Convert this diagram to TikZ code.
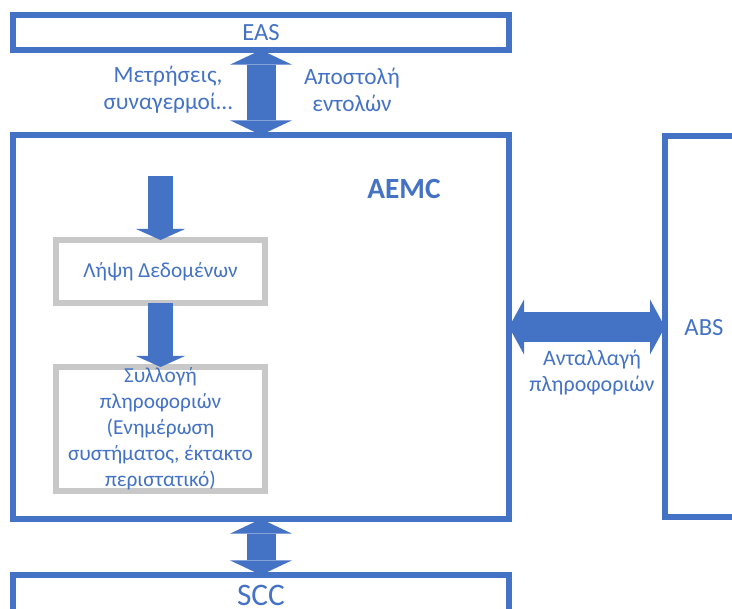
\documentclass[tikz,border=0pt]{standalone}
\usepackage{fontspec}
\setmainfont{Carlito}
\usetikzlibrary{arrows.meta}
\definecolor{boxblue}{HTML}{4472C4}
\definecolor{boxgray}{HTML}{C8C8C8}

\begin{document}
\begin{tikzpicture}[x=0.75pt, y=-0.75pt,
	bluebox/.style={shape=rectangle, draw=boxblue, line width=4.5pt, outer sep=0pt, text=boxblue},
	graybox/.style={shape=rectangle, draw=boxgray, line width=4.5pt, outer sep=0pt, text=boxblue, align=center, minimum width=156.75pt, font=\fontsize{16}{19.5}\selectfont},
	txt/.style={text=boxblue, align=center, inner sep=0pt, font=\fontsize{17.5}{20}\selectfont},
	vlink/.style={draw=boxblue, line width=21.75pt, arrows={Triangle[length=11pt, width=46.5pt, line width=0pt]-Triangle[length=11pt, width=46.5pt, line width=0pt]}},
	hlink/.style={draw=boxblue, line width=22.5pt, arrows={Triangle[length=11.25pt, width=41.25pt, line width=0pt]-Triangle[length=11.25pt, width=41.25pt, line width=0pt]}},
	flow/.style={draw=boxblue, line width=18.75pt, arrows={-Triangle[length=8.25pt, width=36.75pt, line width=0pt]}}]
	\useasboundingbox (0,0) rectangle (732,609);
	\node[bluebox, minimum width=372pt, minimum height=26.25pt, font=\fontsize{18.5}{20}\selectfont] (eas) at (261,32.5) {EAS};
	\node[bluebox, minimum width=372pt, minimum height=288pt] (aemc) at (261,327) {};
	\node[bluebox, minimum width=101.25pt, minimum height=285.75pt] (abs) at (732.5,326.5) {};
	\node[bluebox, minimum width=372pt, minimum height=48.75pt] (scc) at (261,607.5) {};
	\node[txt, font=\bfseries\fontsize{22}{24}\selectfont] (aemctext) at (404,189) {AEMC};
	\node[txt, font=\fontsize{18.5}{20}\selectfont] (abstext) at (704,328) {ABS};
	\node[txt, font=\fontsize{23.5}{26}\selectfont] (scctext) at (261,595) {SCC};
	\node[graybox, minimum height=47.25pt] (lipsi) at (160.5,271.5) {Λήψη Δεδομένων};
	\node[graybox, minimum height=93pt, inner ysep=-3pt] (syllogi) at (160.5,429) {Συλλογή\\πληροφοριών\\(Ενημέρωση\\συστήματος, έκτακτο\\περιστατικό)};
	\coordinate (feed) at (160.5,176);
	\draw[flow] (feed) -- (lipsi.north);
	\draw[flow] (lipsi.south) -- (syllogi.north);
	\draw[vlink] (eas.south) -- (aemc.north);
	\draw[vlink] (aemc.south) -- (scc.north);
	\draw[hlink] (aemc.east) -- (aemc.east -| abs.west);
	\node[txt] (metriseis) at (168,90) {Μετρήσεις,\\συναγερμοί…};
	\node[txt] (apostoli) at (352,90) {Αποστολή\\εντολών};
	\node[txt, font=\fontsize{16.5}{19.5}\selectfont] (antallagi) at (592,373) {Ανταλλαγή\\πληροφοριών};
\end{tikzpicture}
\end{document}
